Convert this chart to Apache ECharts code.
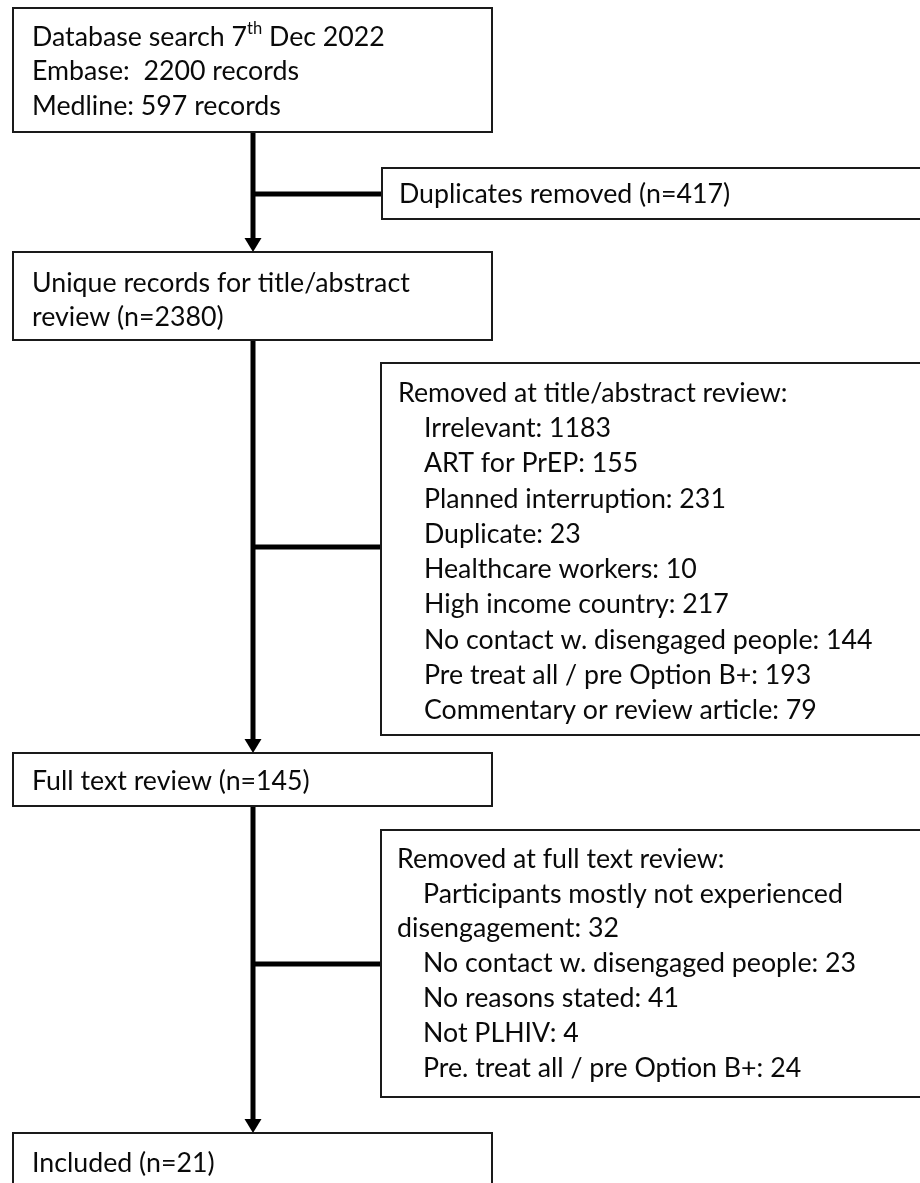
<!DOCTYPE html>
<html>
<head>
<meta charset="utf-8">
<script src="https://cdn.jsdelivr.net/npm/echarts@6/dist/echarts.min.js"></script>
<style>
html,body{margin:0;padding:0;background:#ffffff;}
#chart{width:920px;height:1183px;}
</style>
</head>
<body>
<div id="chart"></div>
<script>
// ---------------- DATA ----------------
const searchDay = '7';
const searchOrdinal = 'th';
const searchMonthYear = 'Dec 2022';
const sources = ['Embase', 'Medline'];
const sourceRecords = [2200, 597];
const duplicatesRemoved = 417;
const uniqueRecords = 2380;
const titleAbstractReasons = [
  'Irrelevant', 'ART for PrEP', 'Planned interruption', 'Duplicate',
  'Healthcare workers', 'High income country', 'No contact w. disengaged people',
  'Pre treat all / pre Option B+', 'Commentary or review article'
];
const titleAbstractCounts = [1183, 155, 231, 23, 10, 217, 144, 193, 79];
const fullTextReviewed = 145;
const fullTextReasons = [
  'Participants mostly not experienced\ndisengagement', 'No contact w. disengaged people',
  'No reasons stated', 'Not PLHIV', 'Pre. treat all / pre Option B+'
];
const fullTextCounts = [32, 23, 41, 4, 24];
const includedStudies = 21;

// ---------------- FONT FITTING ----------------
const FONT_FAMILY = 'Lato, "Noto Sans", sans-serif';
const mctx = document.createElement('canvas').getContext('2d');
function measure(t, size) { mctx.font = size + 'px ' + FONT_FAMILY; return mctx.measureText(t).width; }
const FS = 100 * (250 + 266) / (measure('Medline: 597 records', 100) + measure('Embase:  2200 records', 100));
const SUP_FS = FS * 0.62;
const TEXT_COLOR = '#0a0a0a';

// ---------------- LAYOUT ----------------
function mkLines(texts, x0, xIndent, yStart, step, firstIndented) {
  const out = [];
  let y = yStart;
  texts.forEach((t, i) => {
    const parts = t.split('\n');
    parts.forEach((p, j) => {
      const indented = (i === 0 && !firstIndented) ? false : (j === 0);
      out.push({ text: p, x: indented ? xIndent : x0, y: y });
      y += step;
    });
  });
  return out;
}

const boxes = [];
// Box 1: database search
boxes.push({ x0: 13, y0: 8, x1: 492, y1: 132, lines: [
  { text: 'Database search ' + searchDay, x: 32, y: 37, sup: searchOrdinal, after: ' ' + searchMonthYear },
  { text: sources[0] + ':  ' + sourceRecords[0] + ' records', x: 32, y: 71 },
  { text: sources[1] + ': ' + sourceRecords[1] + ' records', x: 32, y: 106 }
]});
// Duplicates removed
boxes.push({ x0: 382, y0: 168, x1: 935, y1: 219, lines: [
  { text: 'Duplicates removed (n=' + duplicatesRemoved + ')', x: 399, y: 194 }
]});
// Unique records
boxes.push({ x0: 13, y0: 252, x1: 492, y1: 340, lines: [
  { text: 'Unique records for title/abstract', x: 32, y: 283 },
  { text: 'review (n=' + uniqueRecords + ')', x: 32, y: 317 }
]});
// Removed at title/abstract
boxes.push({ x0: 381, y0: 363, x1: 935, y1: 735, lines: mkLines(
  ['Removed at title/abstract review:'].concat(titleAbstractReasons.map((r, i) => r + ': ' + titleAbstractCounts[i])),
  398, 424, 393, 35.3, false)
});
// Full text review
boxes.push({ x0: 13, y0: 753, x1: 492, y1: 806, lines: [
  { text: 'Full text review (n=' + fullTextReviewed + ')', x: 32, y: 781 }
]});
// Removed at full text
boxes.push({ x0: 381, y0: 830, x1: 935, y1: 1097, lines: mkLines(
  ['Removed at full text review:'].concat(fullTextReasons.map((r, i) => r + ': ' + fullTextCounts[i])),
  397, 423, 859, 34.9, false)
});
// Included
boxes.push({ x0: 13, y0: 1133, x1: 492, y1: 1200, lines: [
  { text: 'Included (n=' + includedStudies + ')', x: 32, y: 1163 }
]});

// connectors: [x0, y0, x1, y1, arrow]
const connectors = [
  [253, 132, 253, 252, 1],
  [253, 340, 253, 753, 1],
  [253, 806, 253, 1133, 1],
  [253, 194, 382, 194, 0],
  [253, 547, 381, 547, 0],
  [253, 964, 381, 964, 0]
];

// ---------------- CHART ----------------
const chart = echarts.init(document.getElementById('chart'), null, { renderer: 'canvas' });

function textEl(t, x, y, size) {
  return { type: 'text', style: { text: t, x: x, y: y, fill: TEXT_COLOR,
    font: size + 'px ' + FONT_FAMILY, textAlign: 'left', textVerticalAlign: 'middle' } };
}

const option = {
  animation: false,
  backgroundColor: '#ffffff',
  grid: { left: 0, right: 0, top: 0, bottom: 0 },
  xAxis: { type: 'value', min: 0, max: 920, show: false },
  yAxis: { type: 'value', min: 0, max: 1183, inverse: true, show: false },
  series: [
    {
      type: 'custom',
      clip: false,
      data: connectors,
      renderItem: function (params, api) {
        const p0 = api.coord([api.value(0), api.value(1)]);
        const p1 = api.coord([api.value(2), api.value(3)]);
        const arrow = api.value(4);
        const children = [];
        const ah = 14, aw = 8.5;
        const endY = arrow ? p1[1] - ah + 1 : p1[1];
        children.push({ type: 'line', shape: { x1: p0[0], y1: p0[1], x2: p1[0], y2: endY },
          style: { stroke: '#000', lineWidth: 5 } });
        if (arrow) {
          children.push({ type: 'polygon', shape: { points: [[p1[0] - aw, p1[1] - ah], [p1[0] + aw, p1[1] - ah], [p1[0], p1[1]]] },
            style: { fill: '#000' } });
        }
        return { type: 'group', children: children };
      }
    },
    {
      type: 'custom',
      clip: false,
      data: boxes.map((b, i) => [b.x0, b.y0, b.x1, b.y1, i]),
      renderItem: function (params, api) {
        const b = boxes[api.value(4)];
        const a = api.coord([api.value(0), api.value(1)]);
        const c = api.coord([api.value(2), api.value(3)]);
        const children = [{ type: 'rect', shape: { x: a[0], y: a[1], width: c[0] - a[0], height: c[1] - a[1] },
          style: { fill: '#ffffff', stroke: '#1a1a1a', lineWidth: 2 } }];
        b.lines.forEach(function (ln) {
          const p = api.coord([ln.x, ln.y]);
          children.push(textEl(ln.text, p[0], p[1], FS));
          if (ln.sup) {
            const w = measure(ln.text, FS);
            children.push(textEl(ln.sup, p[0] + w, p[1] - FS * 0.3, SUP_FS));
            const w2 = measure(ln.sup, SUP_FS);
            children.push(textEl(ln.after, p[0] + w + w2, p[1], FS));
          }
        });
        return { type: 'group', children: children };
      }
    }
  ]
};
chart.setOption(option);
</script>
</body>
</html>
